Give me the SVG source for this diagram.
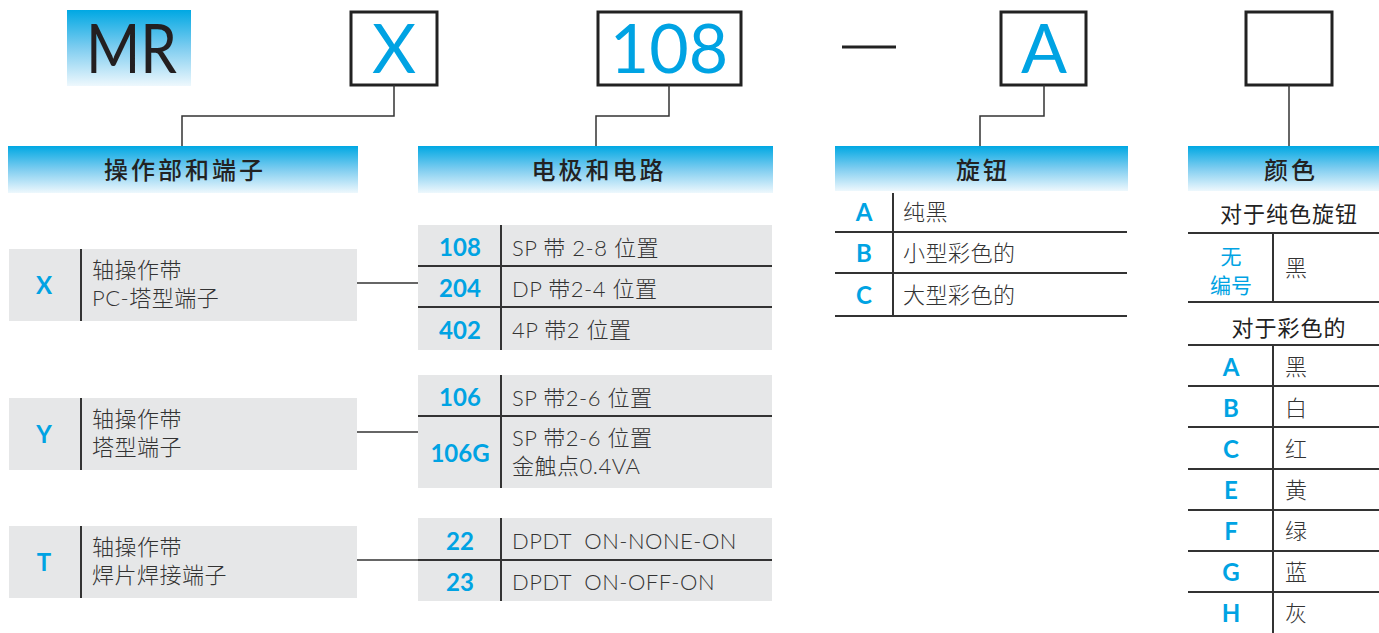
<svg xmlns="http://www.w3.org/2000/svg" width="1379" height="633" viewBox="0 0 1379 633">
<defs>
<linearGradient id="hg" x1="0" y1="0" x2="0" y2="1">
<stop offset="0" stop-color="#00a8e3"/>
<stop offset="0.5" stop-color="#7fcdf0"/>
<stop offset="1" stop-color="#eef8fd"/>
</linearGradient>
<style>
.hdr{fill:url(#hg)}
.code{fill:#fff;stroke:#222;stroke-width:3}
.big{font-family:Lato,"Noto Sans",sans-serif;font-size:68px;font-weight:400;fill:#00a3e3;text-anchor:middle}
.ht{font-family:"Noto Sans CJK SC",sans-serif;font-size:24px;font-weight:500;fill:#222;text-anchor:middle;letter-spacing:3px}
.row{fill:#e6e7e8}
.k{font-family:Lato,"Noto Sans",sans-serif;font-weight:bold;font-size:24px;fill:#00a3e3;text-anchor:middle}
.kc{font-family:"Noto Sans CJK SC",sans-serif;font-size:21px;fill:#00a3e3;text-anchor:middle}
.t{font-family:Lato,"Noto Sans CJK SC",sans-serif;font-size:22px;font-weight:300;fill:#333;letter-spacing:0.5px}
.tc{font-family:Lato,"Noto Sans CJK SC",sans-serif;font-size:22px;fill:#222;text-anchor:middle;letter-spacing:1px}
.ln{stroke:#333;stroke-width:2;fill:none}
.conn{stroke:#333;stroke-width:1.5;fill:none}
</style>
</defs>

<g id="code-MR">
<rect x="67" y="10" width="124" height="76" class="hdr"/>
<text x="86" y="73" font-family="Lato,sans-serif" font-size="68" fill="#231f20" textLength="91" lengthAdjust="spacingAndGlyphs">MR</text>
</g>
<g id="code-X">
<rect x="351" y="12" width="86" height="73" class="code"/>
<text x="394" y="73" class="big">X</text>
</g>
<g id="code-108">
<rect x="598" y="12" width="143" height="73" class="code"/>
<text x="669" y="73" class="big">108</text>
</g>
<g id="dash">
<line x1="842" y1="47" x2="896" y2="47" stroke="#222" stroke-width="3"/>
</g>
<g id="code-A">
<rect x="1001" y="12" width="85" height="73" class="code"/>
<text x="1044" y="73" class="big">A</text>
</g>
<g id="code-blank">
<rect x="1246" y="12" width="86" height="73" class="code"/>
</g>

<g id="connectors">
<polyline class="conn" points="394,85 394,116 182,116 182,146"/>
<polyline class="conn" points="669,85 669,116 596,116 596,146"/>
<polyline class="conn" points="1044,85 1044,116 980,116 980,146"/>
<polyline class="conn" points="1289,85 1289,146"/>
<line class="conn" x1="357" y1="283" x2="418" y2="283"/>
<line class="conn" x1="357" y1="432" x2="418" y2="432"/>
<line class="conn" x1="357" y1="560" x2="418" y2="560"/>
</g>

<g id="hdr-operation">
<rect x="8" y="146" width="350" height="47" class="hdr"/>
<text x="185" y="179" class="ht">操作部和端子</text>
</g>
<g id="hdr-circuit">
<rect x="418" y="146" width="355" height="47" class="hdr"/>
<text x="599" y="179" class="ht">电极和电路</text>
</g>
<g id="hdr-knob">
<rect x="835" y="146" width="293" height="45" class="hdr"/>
<text x="983" y="179" class="ht">旋钮</text>
</g>
<g id="hdr-color">
<rect x="1188" y="146" width="191" height="45" class="hdr"/>
<text x="1291" y="179" class="ht">颜色</text>
</g>

<g id="op-X">
<rect x="9" y="249" width="348" height="72" class="row"/>
<line class="ln" x1="81" y1="249" x2="81" y2="321"/>
<text x="44" y="294" class="k">X</text>
<text x="92" y="278" class="t">轴操作带</text>
<text x="92" y="306" class="t">PC-塔型端子</text>
</g>
<g id="op-Y">
<rect x="9" y="398" width="348" height="72" class="row"/>
<line class="ln" x1="81" y1="398" x2="81" y2="470"/>
<text x="44" y="443" class="k">Y</text>
<text x="92" y="427" class="t">轴操作带</text>
<text x="92" y="455" class="t">塔型端子</text>
</g>
<g id="op-T">
<rect x="9" y="526" width="348" height="72" class="row"/>
<line class="ln" x1="81" y1="526" x2="81" y2="598"/>
<text x="44" y="571" class="k">T</text>
<text x="92" y="555" class="t">轴操作带</text>
<text x="92" y="583" class="t">焊片焊接端子</text>
</g>

<g id="circuit-group1">
<rect x="418" y="225" width="354" height="125" class="row"/>
<line class="ln" x1="501" y1="225" x2="501" y2="350"/>
<line class="ln" x1="418" y1="266" x2="772" y2="266"/>
<line class="ln" x1="418" y1="307" x2="772" y2="307"/>
<text x="460" y="256" class="k">108</text>
<text x="512" y="256" class="t">SP 带 2-8 位置</text>
<text x="460" y="297" class="k">204</text>
<text x="512" y="297" class="t">DP 带2-4 位置</text>
<text x="460" y="339" class="k">402</text>
<text x="512" y="338" class="t">4P 带2 位置</text>
</g>
<g id="circuit-group2">
<rect x="418" y="375" width="354" height="113" class="row"/>
<line class="ln" x1="501" y1="375" x2="501" y2="488"/>
<line class="ln" x1="418" y1="416" x2="772" y2="416"/>
<text x="460" y="406" class="k">106</text>
<text x="512" y="406" class="t">SP 带2-6 位置</text>
<text x="460" y="462" class="k">106G</text>
<text x="512" y="446" class="t">SP 带2-6 位置</text>
<text x="512" y="474" class="t">金触点0.4VA</text>
</g>
<g id="circuit-group3">
<rect x="418" y="518" width="354" height="83" class="row"/>
<line class="ln" x1="501" y1="518" x2="501" y2="601"/>
<line class="ln" x1="418" y1="560" x2="772" y2="560"/>
<text x="460" y="550" class="k">22</text>
<text x="512" y="549" class="t" xml:space="preserve">DPDT  ON-NONE-ON</text>
<text x="460" y="591" class="k">23</text>
<text x="512" y="590" class="t" xml:space="preserve">DPDT  ON-OFF-ON</text>
</g>

<g id="knob-table">
<line class="ln" x1="893" y1="193" x2="893" y2="316"/>
<line class="ln" x1="835" y1="232" x2="1127" y2="232"/>
<line class="ln" x1="835" y1="273" x2="1127" y2="273"/>
<line class="ln" x1="835" y1="316" x2="1127" y2="316"/>
<text x="864" y="221" class="k">A</text>
<text x="903" y="220" class="t">纯黑</text>
<text x="864" y="262" class="k">B</text>
<text x="903" y="261" class="t">小型彩色的</text>
<text x="864" y="304" class="k">C</text>
<text x="903" y="303" class="t">大型彩色的</text>
</g>

<g id="color-table">
<text x="1289" y="222" class="tc">对于纯色旋钮</text>
<line class="ln" x1="1188" y1="233" x2="1379" y2="233"/>
<line class="ln" x1="1273" y1="233" x2="1273" y2="302"/>
<text x="1231" y="264" class="kc">无</text>
<text x="1231" y="293" class="kc">编号</text>
<text x="1285" y="276" class="t">黑</text>
<line class="ln" x1="1188" y1="302" x2="1379" y2="302"/>
<text x="1289" y="336" class="tc">对于彩色的</text>
<line class="ln" x1="1188" y1="345" x2="1379" y2="345"/>
<line class="ln" x1="1273" y1="345" x2="1273" y2="633"/>
<line class="ln" x1="1188" y1="386" x2="1379" y2="386"/>
<line class="ln" x1="1188" y1="427" x2="1379" y2="427"/>
<line class="ln" x1="1188" y1="469" x2="1379" y2="469"/>
<line class="ln" x1="1188" y1="510" x2="1379" y2="510"/>
<line class="ln" x1="1188" y1="551" x2="1379" y2="551"/>
<line class="ln" x1="1188" y1="592" x2="1379" y2="592"/>
<text x="1231" y="376" class="k">A</text>
<text x="1285" y="375" class="t">黑</text>
<text x="1231" y="417" class="k">B</text>
<text x="1285" y="416" class="t">白</text>
<text x="1231" y="458" class="k">C</text>
<text x="1285" y="457" class="t">红</text>
<text x="1231" y="499" class="k">E</text>
<text x="1285" y="498" class="t">黄</text>
<text x="1231" y="540" class="k">F</text>
<text x="1285" y="539" class="t">绿</text>
<text x="1231" y="581" class="k">G</text>
<text x="1285" y="580" class="t">蓝</text>
<text x="1231" y="622" class="k">H</text>
<text x="1285" y="621" class="t">灰</text>
</g>
</svg>
